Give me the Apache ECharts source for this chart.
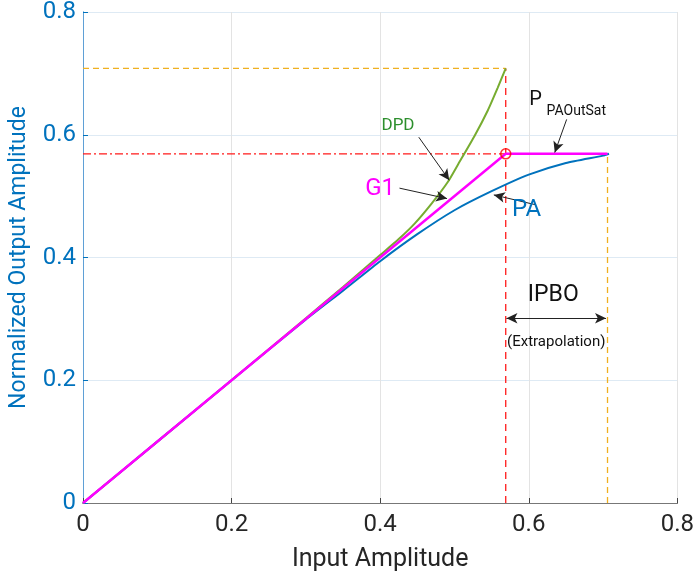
<!DOCTYPE html>
<html><head><meta charset="utf-8">
<script src="https://cdn.jsdelivr.net/npm/echarts@6/dist/echarts.min.js"></script>
<style>html,body{margin:0;padding:0;background:#fff}#c{width:697px;height:578px}</style>
</head><body><div id="c"></div>
<script>
// ---- data ----
const paX  = [0, 0.1, 0.2, 0.3, 0.35, 0.4, 0.45, 0.5, 0.55, 0.6, 0.65, 0.7, 0.708];
const paY  = [0, 0.1, 0.2, 0.299, 0.346, 0.394, 0.438, 0.477, 0.508, 0.535, 0.554, 0.566, 0.569];
const dpdX = [0, 0.1, 0.2, 0.3, 0.35, 0.4, 0.425, 0.447, 0.47, 0.491, 0.505, 0.527, 0.545, 0.558, 0.569];
const dpdY = [0, 0.1, 0.2, 0.301, 0.352, 0.404, 0.430, 0.456, 0.489, 0.523, 0.552, 0.598, 0.640, 0.676, 0.708];
const g1X  = [0, 0.569, 0.706];
const g1Y  = [0, 0.569, 0.569];
const satIn = 0.569, satOut = 0.569, dpdMax = 0.708, ipboIn = 0.706;
const xTicks = [0, 0.2, 0.4, 0.6, 0.8];
const yTicks = [0, 0.2, 0.4, 0.6, 0.8];

const zip = (a, b) => a.map((v, i) => [v, b[i]]);
const BLUE = '#0072BD', GREEN = '#77AC30', MAG = '#FF00FF', RED = '#FF1a1a', ORANGE = '#F0B020', DARK = '#262626';
const FONT = 'Roboto';

const chart = echarts.init(document.getElementById('c'), null, {renderer: 'canvas'});

function refLine(pts, color, type) {
  return {type: 'line', data: pts, symbol: 'none', silent: true, z: 1,
    itemStyle: {color: color},
    lineStyle: {color: color, width: 1.3, type: type, opacity: 1}, animation: false};
}

const option = {
  animation: false,
  backgroundColor: '#fff',
  grid: {left: 82, right: 18, top: 10, bottom: 75, containLabel: false},
  xAxis: [
    {type: 'value', min: 0, max: 0.8, interval: 0.2, position: 'bottom',
     name: 'Input Amplitude', nameLocation: 'middle', nameGap: 44,
     nameTextStyle: {fontFamily: FONT, fontSize: 25, color: DARK},
     axisLine: {show: true, lineStyle: {color: '#666', width: 1}},
     axisTick: {show: true, inside: true, length: 5, lineStyle: {color: '#444'}},
     axisLabel: {fontFamily: FONT, fontSize: 24, color: DARK, margin: 10,
       formatter: v => (xTicks.includes(+v.toFixed(1)) ? String(+v.toFixed(1)) : '')},
     splitLine: {show: true, lineStyle: {color: '#e3e3e3', width: 1}}},
    {type: 'value', min: 0, max: 0.8, interval: 0.2, position: 'top',
     axisLine: {show: true, lineStyle: {color: '#777', width: 1}},
     axisTick: {show: false}, axisLabel: {show: false}, splitLine: {show: false}}
  ],
  yAxis: [
    {type: 'value', min: 0, max: 0.8, interval: 0.2, position: 'left',
     name: 'Normalized Output Amplitude', nameLocation: 'middle', nameGap: 52, nameRotate: 90,
     nameTextStyle: {fontFamily: FONT, fontSize: 23, color: BLUE},
     axisLine: {show: true, lineStyle: {color: '#5fa0d6', width: 1}},
     axisTick: {show: true, inside: true, length: 5, lineStyle: {color: BLUE}},
     axisLabel: {fontFamily: FONT, fontSize: 24, color: BLUE, margin: 7,
       formatter: v => (yTicks.includes(+v.toFixed(1)) ? String(+v.toFixed(1)) : '')},
     splitLine: {show: true, lineStyle: {color: '#deeaf4', width: 1}}},
    {type: 'value', min: 0, max: 0.8, interval: 0.2, position: 'right',
     axisLine: {show: true, lineStyle: {color: '#5fa0d6', width: 1}},
     axisTick: {show: false}, axisLabel: {show: false}, splitLine: {show: false}}
  ],
  series: [
    refLine([[0, dpdMax], [satIn, dpdMax]], ORANGE, [6, 4]),
    refLine([[ipboIn, 0], [ipboIn, satOut]], ORANGE, [6, 4]),
    refLine([[0, satOut], [satIn, satOut]], RED, [8, 3, 2, 3]),
    refLine([[satIn, 0], [satIn, dpdMax]], RED, [7, 5]),
    {name: 'DPD', type: 'line', data: zip(dpdX, dpdY), symbol: 'none', smooth: 0.2, z: 3,
     lineStyle: {color: GREEN, width: 2}},
    {name: 'PA', type: 'line', data: zip(paX, paY), symbol: 'none', smooth: 0.2, z: 3,
     lineStyle: {color: BLUE, width: 2}},
    {name: 'G1', type: 'line', data: zip(g1X, g1Y), symbol: 'none', z: 4,
     lineStyle: {color: MAG, width: 2.5},
     markLine: {silent: true, animation: false, symbol: ['none', 'arrow'], symbolSize: [8, 11],
       label: {show: false}, lineStyle: {color: '#222', width: 1, type: 'solid'},
       data: [
         [{coord: [0.452, 0.596]}, {coord: [0.493, 0.526]}],
         [{coord: [0.426, 0.513]}, {coord: [0.490, 0.496]}],
         [{coord: [0.609, 0.486]}, {coord: [0.553, 0.502]}],
         [{coord: [0.651, 0.625]}, {coord: [0.635, 0.571]}],
         [{coord: [0.570, 0.301], symbol: 'arrow'}, {coord: [0.704, 0.301], symbol: 'arrow'}]
       ]}},
    {name: 'sat', type: 'scatter', data: [[satIn, satOut]], symbol: 'circle', symbolSize: 10, z: 5,
     itemStyle: {color: 'rgba(0,0,0,0)', borderColor: '#FF0000', borderWidth: 1.6}}
  ]
};
chart.setOption(option);

const labels = [
  {t: 'DPD', at: [0.424, 0.614], size: 17, color: '#2d8f2d'},
  {t: 'G1', at: [0.400, 0.511], size: 24, color: MAG},
  {t: 'PA', at: [0.597, 0.478], size: 24, color: BLUE},
  {t: 'IPBO', at: [0.633, 0.339], size: 23, color: '#111'},
  {t: '(Extrapolation)', at: [0.637, 0.262], size: 15, color: '#111'},
  {t: 'P', at: [0.609, 0.656], size: 20, color: '#111'},
  {t: 'PAOutSat', at: [0.664, 0.638], size: 14, color: '#111'}
];
chart.setOption({graphic: labels.map(l => {
  const p = chart.convertToPixel({xAxisIndex: 0, yAxisIndex: 0}, l.at);
  return {type: 'text', x: p[0], y: p[1], z: 10, silent: true,
    style: {text: l.t, fill: l.color, font: l.size + 'px ' + FONT, textAlign: 'center', textVerticalAlign: 'middle'}};
})});
</script></body></html>
